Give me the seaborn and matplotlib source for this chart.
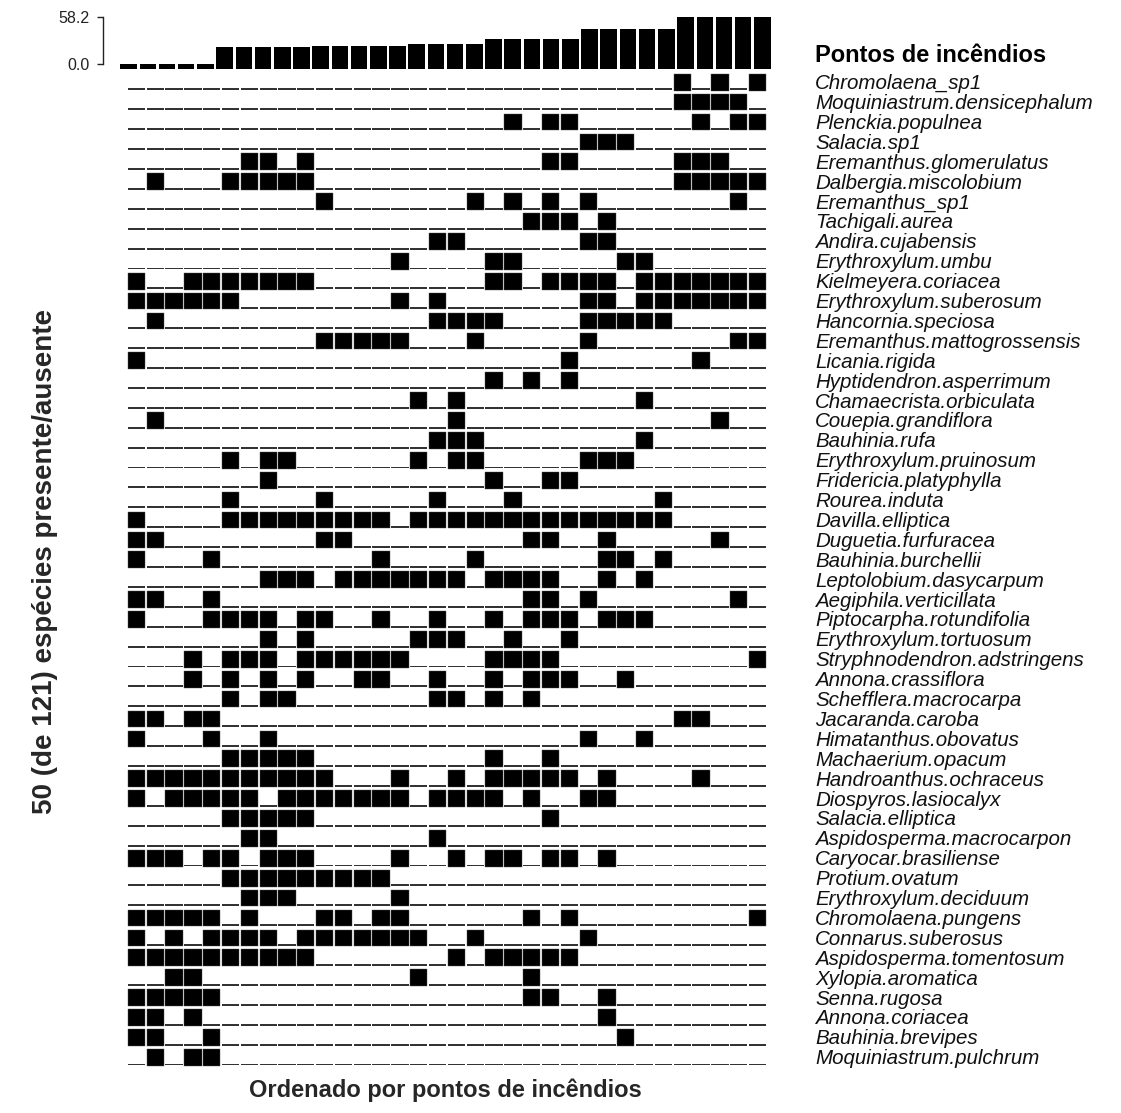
import matplotlib
matplotlib.use("Agg")
import matplotlib.pyplot as plt
import numpy as np
import pandas as pd
import seaborn as sns

# ---------------- data ----------------
species = [
    "Chromolaena_sp1", "Moquiniastrum.densicephalum", "Plenckia.populnea", "Salacia.sp1",
    "Eremanthus.glomerulatus", "Dalbergia.miscolobium", "Eremanthus_sp1", "Tachigali.aurea",
    "Andira.cujabensis", "Erythroxylum.umbu", "Kielmeyera.coriacea", "Erythroxylum.suberosum",
    "Hancornia.speciosa", "Eremanthus.mattogrossensis", "Licania.rigida", "Hyptidendron.asperrimum",
    "Chamaecrista.orbiculata", "Couepia.grandiflora", "Bauhinia.rufa", "Erythroxylum.pruinosum",
    "Fridericia.platyphylla", "Rourea.induta", "Davilla.elliptica", "Duguetia.furfuracea",
    "Bauhinia.burchellii", "Leptolobium.dasycarpum", "Aegiphila.verticillata", "Piptocarpha.rotundifolia",
    "Erythroxylum.tortuosum", "Stryphnodendron.adstringens", "Annona.crassiflora", "Schefflera.macrocarpa",
    "Jacaranda.caroba", "Himatanthus.obovatus", "Machaerium.opacum", "Handroanthus.ochraceus",
    "Diospyros.lasiocalyx", "Salacia.elliptica", "Aspidosperma.macrocarpon", "Caryocar.brasiliense",
    "Protium.ovatum", "Erythroxylum.deciduum", "Chromolaena.pungens", "Connarus.suberosus",
    "Aspidosperma.tomentosum", "Xylopia.aromatica", "Senna.rugosa", "Annona.coriacea",
    "Bauhinia.brevipes", "Moquiniastrum.pulchrum",
]

# site indices (0..33, ordered by fire points) where each species is present
presence = [
    [29, 31, 33],
    [29, 30, 31, 32],
    [20, 22, 23, 30, 32, 33],
    [24, 25, 26],
    [6, 7, 9, 22, 23, 29, 30, 31],
    [1, 5, 6, 7, 8, 9, 29, 30, 31, 32, 33],
    [10, 18, 20, 22, 24, 32],
    [21, 22, 23, 25],
    [16, 17, 24, 25],
    [14, 19, 20, 26, 27],
    [0, 3, 4, 5, 6, 7, 8, 9, 19, 20, 22, 23, 24, 25, 27, 28, 29, 30, 31, 32, 33],
    [0, 1, 2, 3, 4, 5, 14, 16, 24, 25, 27, 28, 29, 30, 31, 32, 33],
    [1, 16, 17, 18, 19, 24, 25, 26, 27, 28],
    [10, 11, 12, 13, 14, 18, 24, 32, 33],
    [0, 23, 30],
    [19, 21, 23],
    [15, 17, 27],
    [1, 17, 31],
    [16, 17, 18, 27],
    [5, 7, 8, 15, 17, 18, 24, 25, 26],
    [7, 19, 22, 23],
    [5, 10, 16, 20, 28],
    [0, 5, 6, 7, 8, 9, 10, 11, 12, 13, 15, 16, 17, 18, 19, 20, 21, 22, 23, 24, 25, 26, 27, 28],
    [0, 1, 10, 11, 21, 22, 25, 31],
    [0, 4, 13, 18, 25, 26, 28],
    [7, 8, 9, 11, 12, 13, 14, 15, 16, 17, 19, 20, 21, 22, 25, 27],
    [0, 1, 4, 21, 22, 24, 32],
    [0, 4, 5, 6, 7, 9, 10, 13, 16, 19, 21, 22, 23, 25, 26, 27],
    [7, 9, 15, 16, 17, 20, 23],
    [3, 5, 6, 7, 9, 10, 11, 12, 13, 14, 19, 20, 21, 22, 33],
    [3, 5, 7, 9, 12, 13, 16, 19, 21, 22, 23, 26],
    [5, 7, 8, 16, 17, 19, 21],
    [0, 1, 3, 4, 29, 30],
    [0, 4, 7, 24, 27],
    [5, 6, 7, 8, 9, 19, 22],
    [0, 1, 2, 3, 4, 5, 6, 7, 8, 9, 10, 14, 17, 19, 20, 21, 22, 23, 25, 30],
    [0, 2, 3, 4, 5, 6, 8, 9, 10, 11, 12, 13, 14, 16, 17, 18, 19, 21, 24, 25],
    [5, 6, 7, 8, 9, 22],
    [6, 7, 16],
    [0, 1, 2, 4, 5, 7, 8, 9, 14, 17, 19, 20, 22, 23, 25],
    [5, 6, 7, 8, 9, 10, 11, 12, 13],
    [6, 7, 8, 14],
    [0, 1, 2, 3, 4, 6, 10, 11, 13, 14, 21, 23, 33],
    [0, 2, 4, 5, 6, 7, 9, 10, 11, 12, 13, 14, 15, 18, 24],
    [0, 1, 2, 3, 4, 5, 6, 7, 8, 9, 17, 19, 20, 21, 22, 23],
    [2, 3, 15, 21],
    [0, 1, 2, 3, 4, 21, 22, 25],
    [0, 1, 3, 25],
    [0, 1, 4, 26],
    [1, 3, 4],
]

# fire points per site (sites sorted by fire points)
fire_points = [0.0, 0.0, 0.0, 0.0, 0.0,
               21.0, 21.0, 21.0, 21.0, 21.0,
               23.0, 23.0, 23.0, 23.0, 23.0,
               24.5, 24.5, 24.5, 24.5,
               31.5, 31.5, 31.5, 31.5, 31.5,
               43.0, 43.0, 43.0, 43.0, 43.0,
               58.2, 58.2, 58.2, 58.2, 58.2]
fire_ticks = [0.0, 58.2]
fire_tick_labels = ["0.0", "58.2"]

title_text = "Pontos de incêndios"
ylabel_text = "50 (de 121) espécies presente/ausente"
xlabel_text = "Ordenado por pontos de incêndios"

# ---------------- style ----------------
sns.set_style("white")
plt.rcParams["font.family"] = ["Liberation Sans", "DejaVu Sans"]

W, H = 1121, 1113
fig = plt.figure(figsize=(W / 100, H / 100), dpi=100)

n_sites = len(fire_points)
n_sp = len(species)

# ---------------- top bar panel ----------------
top_left, top_right, top_top, top_base = 119, 772, 17, 69
axt = fig.add_axes([top_left / W, 1 - top_base / H,
                    (top_right - top_left) / W, (top_base - top_top) / H])
bar_base = -6.0
df_fire = pd.DataFrame({"site": np.arange(n_sites), "fire": fire_points})
df_fire["bar_len"] = df_fire["fire"] - bar_base   # bars are drawn from bar_base up to the value
sns.barplot(data=df_fire, x="site", y="bar_len", color="black", width=0.86,
            errorbar=None, bottom=bar_base, linewidth=0, ax=axt)
axt.set_xlim(-0.5, n_sites - 0.5)
axt.set_ylim(bar_base, max(fire_points))
axt.set_xticks([])
axt.set_xlabel("")
axt.set_ylabel("")
for s in ["top", "right", "bottom"]:
    axt.spines[s].set_visible(False)
axt.spines["left"].set_bounds(fire_ticks[0], fire_ticks[-1])
axt.spines["left"].set_position(("outward", 11.5))
axt.spines["left"].set_color("#222222")
axt.spines["left"].set_linewidth(1.0)
axt.set_yticks(fire_ticks)
axt.set_yticklabels(fire_tick_labels)
axt.tick_params(axis="y", direction="out", length=4.5, width=1.0,
                colors="#222222", labelsize=11.5, pad=5, left=True)
axt.patch.set_alpha(0)

# ---------------- presence/absence matrix ----------------
m_left, m_right = 127, 767
row0_base, row_gap = 90, 19.9
y_lo, y_hi = -0.3, 50.0
px_bottom = row0_base + row_gap * (n_sp - 1) + (-y_lo) * row_gap
px_top = row0_base + row_gap * (n_sp - 1) - y_hi * row_gap
axm = fig.add_axes([m_left / W, 1 - px_bottom / H,
                    (m_right - m_left) / W, (px_bottom - px_top) / H])

mat = np.zeros((n_sp, n_sites), dtype=int)
for i, cols in enumerate(presence):
    mat[i, cols] = 1

long = pd.DataFrame([(i, j, mat[i, j]) for i in range(n_sp) for j in range(n_sites)],
                    columns=["row", "site", "present"])
long["pos"] = (n_sp - 1) - long["row"]

pres = long[long["present"] == 1]
absn = long[long["present"] == 0]
axm.bar(pres["site"], 0.84, bottom=pres["pos"] - 0.03, width=0.92,
        color="black", edgecolor="#555555", linewidth=0.3)
axm.bar(absn["site"], 0.10, bottom=absn["pos"] - 0.02, width=0.92,
        color="#333333", linewidth=0)
axm.set_xlim(-0.5, n_sites - 0.5)
axm.set_ylim(y_lo, y_hi)
axm.axis("off")

# ---------------- texts ----------------
lab_x = 815
fig.text(lab_x / W, 1 - 55 / H, title_text, fontsize=17, fontweight="bold",
         ha="left", va="center", color="black")
for i, name in enumerate(species):
    yc = row0_base - 0.32 * row_gap + row_gap * i
    fig.text(lab_x / W, 1 - yc / H, name, fontsize=14.8, fontstyle="italic",
             ha="left", va="center", color="#111111")

fig.text(45 / W, 1 - 562 / H, ylabel_text, rotation=90, fontsize=20,
         fontweight="bold", ha="center", va="center")
fig.text(445 / W, 1 - 1090 / H, xlabel_text, fontsize=17,
         fontweight="bold", ha="center", va="center")

fig.savefig("out.png", dpi=100, facecolor="white")
